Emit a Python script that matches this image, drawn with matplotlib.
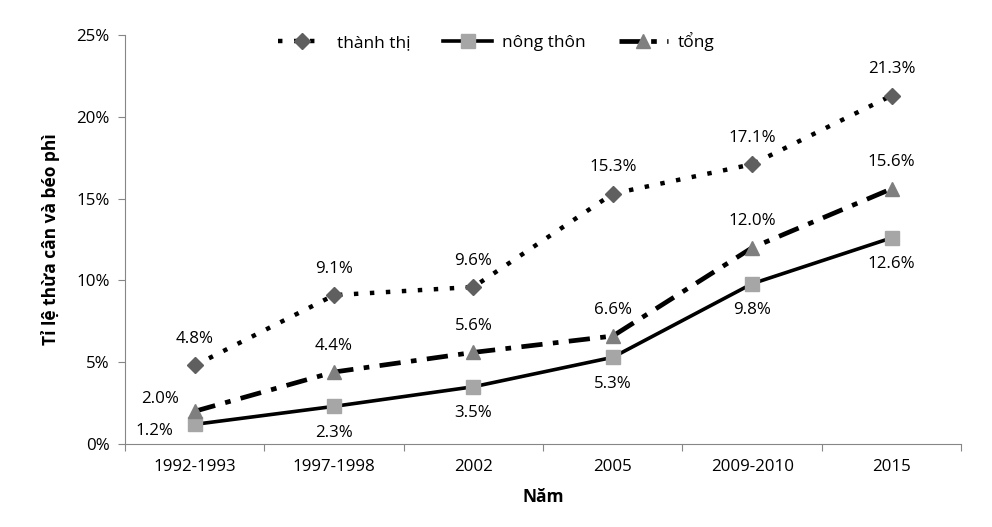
import matplotlib.pyplot as plt
import numpy as np
from matplotlib.ticker import FuncFormatter

plt.rcParams['font.family'] = ['Open Sans', 'DejaVu Sans']

# data
years = ['1992-1993', '1997-1998', '2002', '2005', '2009-2010', '2015']
thanh_thi = [4.8, 9.1, 9.6, 15.3, 17.1, 21.3]
nong_thon = [1.2, 2.3, 3.5, 5.3, 9.8, 12.6]
tong = [2.0, 4.4, 5.6, 6.6, 12.0, 15.6]

fig = plt.figure(figsize=(9.92, 5.27), dpi=100)
ax = fig.add_axes([0.126, 0.1575, 0.843, 0.776])
x = np.arange(len(years))

ax.plot(x, thanh_thi, color='black', lw=3.2, linestyle=(0, (1, 2.6)),
        dash_capstyle='butt', marker='D', markersize=8.5,
        markerfacecolor='#5f5f5f', markeredgecolor='#5f5f5f', label='thành thị', zorder=3)
ax.plot(x, nong_thon, color='black', lw=2.6, linestyle='-',
        marker='s', markersize=10, markerfacecolor='#a6a6a6',
        markeredgecolor='#a6a6a6', label='nông thôn', zorder=3)
ax.plot(x, tong, color='black', lw=3.4, linestyle=(0, (4.5, 2.2, 1.2, 2.2)),
        dash_capstyle='butt', marker='^', markersize=10.5,
        markerfacecolor='#7f7f7f', markeredgecolor='#7f7f7f', label='tổng', zorder=3)

fs = 12.2
for i, v in enumerate(thanh_thi):
    ax.annotate(f'{v:.1f}%', (x[i], v), xytext=(0, 19), textcoords='offset points',
                ha='center', va='center', fontsize=fs)
for i, v in enumerate(nong_thon):
    off = (-29, -5) if i == 0 else (0, -19)
    ax.annotate(f'{v:.1f}%', (x[i], v), xytext=off, textcoords='offset points',
                ha='center', va='center', fontsize=fs)
for i, v in enumerate(tong):
    off = (-25, 9) if i == 0 else (0, 19)
    ax.annotate(f'{v:.1f}%', (x[i], v), xytext=off, textcoords='offset points',
                ha='center', va='center', fontsize=fs)

ax.set_xlim(-0.5, len(years) - 0.5)
ax.set_ylim(0, 25)
ax.set_yticks(np.arange(0, 26, 5))
ax.yaxis.set_major_formatter(FuncFormatter(lambda v, p: f'{v:.0f}%'))
ax.set_xticks(np.arange(-0.5, len(years), 1))
ax.set_xticklabels([])
ax.set_xticks(x, minor=True)
ax.set_xticklabels(years, minor=True, fontsize=fs)
ax.tick_params(axis='x', which='minor', length=0, pad=11)
ax.tick_params(axis='x', which='major', length=5, color='#868686')
ax.tick_params(axis='y', length=5, color='#868686', labelsize=fs, pad=6)

for s in ['top', 'right']:
    ax.spines[s].set_visible(False)
for s in ['left', 'bottom']:
    ax.spines[s].set_color('#868686')

ax.set_xlabel('Năm', fontsize=12.5, fontweight='bold', labelpad=9)
ax.set_ylabel('Tỉ lệ thừa cân và béo phì', fontsize=12.5, fontweight='bold', labelpad=12)

ax.legend(loc='upper center', bbox_to_anchor=(0.444, 1.045), ncol=3, frameon=False,
          fontsize=12.5, handlelength=2.8, columnspacing=1.9, handletextpad=0.6)

fig.savefig('out.png', dpi=100)
